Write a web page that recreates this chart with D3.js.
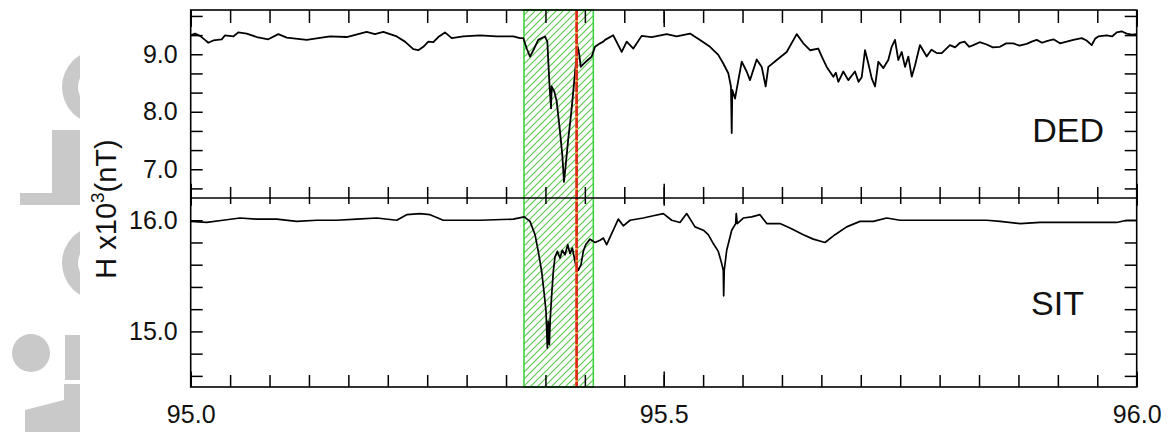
<!DOCTYPE html>
<html><head><meta charset="utf-8">
<script src="https://cdn.jsdelivr.net/npm/d3@7"></script>
<style>
body{margin:0;background:#fff}
svg{display:block}
text{font-family:"Liberation Sans",Arial,sans-serif;fill:#111}
</style>
</head><body>
<svg id="c" width="1168" height="432"></svg>
<script>
// ---- data (day of year, H x10^3 nT) ----
const dedTime = [95.0000,95.0045,95.0098,95.0151,95.0186,95.0239,95.0328,95.0363,95.0450,95.0503,95.0592,95.0698,95.0820,95.0926,95.1015,95.1226,95.1473,95.1649,95.1860,95.1948,95.2036,95.2178,95.2265,95.2353,95.2406,95.2459,95.2512,95.2565,95.2617,95.2688,95.2759,95.2882,95.3058,95.3235,95.3410,95.3481,95.3516,95.3552,95.3587,95.3622,95.3674,95.3745,95.3770,95.3791,95.3809,95.3816,95.3844,95.3869,95.3904,95.3928,95.3946,95.3964,95.3992,95.4020,95.4044,95.4070,95.4091,95.4108,95.4123,95.4150,95.4197,95.4239,95.4274,95.4327,95.4362,95.4380,95.4467,95.4556,95.4609,95.4679,95.4767,95.4873,95.5032,95.5137,95.5278,95.5384,95.5490,95.5577,95.5630,95.5683,95.5711,95.5719,95.5725,95.5754,95.5789,95.5825,95.5877,95.5912,95.5983,95.6036,95.6078,95.6106,95.6195,95.6300,95.6406,95.6476,95.6547,95.6634,95.6680,95.6723,95.6793,95.6820,95.6846,95.6899,95.6951,95.7022,95.7060,95.7093,95.7128,95.7163,95.7199,95.7234,95.7269,95.7322,95.7374,95.7410,95.7445,95.7480,95.7516,95.7551,95.7586,95.7622,95.7657,95.7709,95.7780,95.7830,95.7886,95.7939,95.8026,95.8080,95.8132,95.8180,95.8230,95.8273,95.8340,95.8414,95.8480,95.8555,95.8620,95.8696,95.8760,95.8837,95.8890,95.8943,95.9000,95.9049,95.9120,95.9189,95.9260,95.9330,95.9419,95.9470,95.9525,95.9560,95.9594,95.9683,95.9740,95.9789,95.9840,95.9894,95.9950,96.0000];
const dedH = [9.33,9.36,9.32,9.25,9.20,9.24,9.26,9.33,9.31,9.38,9.36,9.30,9.26,9.35,9.29,9.25,9.31,9.30,9.39,9.35,9.39,9.31,9.22,9.09,9.07,9.13,9.22,9.21,9.30,9.38,9.28,9.31,9.33,9.31,9.31,9.28,9.28,9.10,8.96,9.07,9.25,9.31,9.22,8.52,8.06,8.44,8.35,8.18,7.65,7.25,6.78,7.07,7.54,7.94,8.35,8.81,9.13,8.99,8.78,8.83,8.90,8.96,9.13,9.19,9.22,9.25,9.33,9.04,9.22,9.10,9.32,9.30,9.35,9.31,9.36,9.25,9.13,8.99,8.84,8.67,8.44,7.63,8.38,8.23,8.55,8.87,8.70,8.55,8.91,8.78,8.44,8.78,8.90,9.04,9.35,9.19,9.07,9.10,8.93,8.78,8.61,8.68,8.52,8.70,8.55,8.70,8.52,8.60,9.07,8.84,8.58,8.44,8.87,8.76,8.90,9.13,9.25,8.90,9.04,8.78,8.96,8.61,8.81,9.16,8.96,9.08,9.02,9.02,9.16,9.12,9.20,9.22,9.13,9.16,9.21,9.17,9.12,9.13,9.19,9.19,9.15,9.18,9.22,9.25,9.20,9.23,9.26,9.19,9.22,9.25,9.28,9.24,9.16,9.27,9.31,9.33,9.31,9.38,9.40,9.36,9.34,9.35];

const sitTime = [95.0000,95.0169,95.0341,95.0521,95.0698,95.0909,95.1121,95.1332,95.1543,95.1755,95.1966,95.2178,95.2283,95.2424,95.2530,95.2670,95.2812,95.3058,95.3410,95.3526,95.3587,95.3640,95.3674,95.3710,95.3738,95.3756,95.3770,95.3780,95.3791,95.3801,95.3816,95.3833,95.3851,95.3876,95.3904,95.3928,95.3957,95.3985,95.4010,95.4034,95.4070,95.4097,95.4126,95.4150,95.4175,95.4221,95.4274,95.4327,95.4362,95.4397,95.4450,95.4520,95.4573,95.4644,95.4784,95.4890,95.4996,95.5085,95.5172,95.5243,95.5331,95.5419,95.5471,95.5524,95.5577,95.5613,95.5630,95.5634,95.5640,95.5666,95.5719,95.5761,95.5767,95.5778,95.5841,95.5930,95.6018,95.6089,95.6229,95.6335,95.6476,95.6581,95.6705,95.6811,95.6934,95.7075,95.7216,95.7357,95.7498,95.7674,95.7847,95.8203,95.8414,95.8555,95.8767,95.8978,95.9189,95.9401,95.9612,95.9789,95.9894,96.0000];
const sitH = [15.99,15.98,16.00,16.02,16.01,16.01,15.99,16.00,16.00,16.01,16.02,16.00,16.05,16.06,16.05,16.00,16.00,16.00,16.01,16.03,15.99,15.87,15.72,15.54,15.33,15.18,14.85,15.09,14.88,15.12,15.33,15.54,15.67,15.72,15.66,15.73,15.69,15.78,15.70,15.75,15.60,15.55,15.60,15.72,15.78,15.83,15.80,15.82,15.84,15.78,15.88,16.01,15.95,16.00,16.02,16.04,16.06,16.00,15.98,16.06,15.94,15.91,15.87,15.79,15.72,15.61,15.55,15.32,15.55,15.73,15.91,15.97,16.06,15.97,16.02,16.03,16.05,15.97,15.97,15.93,15.87,15.83,15.80,15.87,15.94,15.99,15.99,16.02,16.00,16.00,16.00,16.00,16.00,15.99,15.97,15.98,15.98,15.98,15.98,15.98,16.00,16.00];

const stationNames = ["DED", "SIT"];
const xLabelValues = [95.0, 95.5, 96.0];
const xTickLabels = ["95.0", "95.5", "96.0"];
const dedLabelValues = [7, 8, 9];
const dedTickLabels = ["7.0", "8.0", "9.0"];
const sitLabelValues = [15, 16];
const sitTickLabels = ["15.0", "16.0"];
const eventWindow = [95.3523, 95.4256];
const eventMarker = [95.408];
const yTitle = ["H x10", "3", "(nT)"];

// ---- layout ----
const L = 190.7, R = 1136.7, T = 10, M = 198, B = 387;
const svg = d3.select("#c");

// watermark fragments
const wm = svg.append("g").attr("fill", "#c9c9c9");
const ring = d3.arc().innerRadius(21).outerRadius(37).startAngle(Math.PI).endAngle(2 * Math.PI);
wm.append("clipPath").attr("id", "wmclip").append("rect").attr("x", 0).attr("y", 0).attr("width", 80).attr("height", 432);
const wg = wm.append("g").attr("clip-path", "url(#wmclip)");
wg.append("path").attr("d", ring()).attr("transform", "translate(99,87)");
wg.append("path").attr("d", ring()).attr("transform", "translate(99,263)");
wg.append("path").attr("d", "M52,130 L80,130 L80,205 L20,205 L20,193 L52,193 Z");
wg.append("circle").attr("cx", 31).attr("cy", 353).attr("r", 19);
wg.append("rect").attr("x", 65).attr("y", 335).attr("width", 15).attr("height", 45);
wg.append("path").attr("d", "M64,384 L80,384 L80,432 L25,432 L25,410 L64,400 Z");

// scales
const x = d3.scaleLinear().domain([95, 96]).range([L, R]);
const yTop = d3.scaleLinear().domain([6.5, 9.77]).range([M, T]);
const yBot = d3.scaleLinear().domain([14.5, 16.2]).range([B, M]);

// defs: hatch + clips
const defs = svg.append("defs");
const pat = defs.append("pattern").attr("id", "hatch").attr("patternUnits", "userSpaceOnUse")
  .attr("width", 7).attr("height", 7);
pat.append("path").attr("d", "M-1,1 l2,-2 M0,7 l7,-7 M6,8 l2,-2")
  .attr("stroke", "#5cc84f").attr("stroke-width", 1.2);
defs.append("clipPath").attr("id", "cpTop").append("rect").attr("x", L).attr("y", T).attr("width", R - L).attr("height", M - T);
defs.append("clipPath").attr("id", "cpBot").append("rect").attr("x", L).attr("y", M).attr("width", R - L).attr("height", B - M);

// event window
svg.append("rect").attr("x", x(eventWindow[0])).attr("y", T)
  .attr("width", x(eventWindow[1]) - x(eventWindow[0])).attr("height", B - T)
  .attr("fill", "url(#hatch)").attr("stroke", "#3fd43f").attr("stroke-width", 1.6);

// lines
const lineTop = d3.line().x((d, i) => x(dedTime[i])).y(d => yTop(d));
const lineBot = d3.line().x((d, i) => x(sitTime[i])).y(d => yBot(d));
svg.append("path").attr("d", lineTop(dedH)).attr("fill", "none").attr("stroke", "#000")
  .attr("stroke-width", 1.8).attr("stroke-linejoin", "round").attr("clip-path", "url(#cpTop)");
svg.append("path").attr("d", lineBot(sitH)).attr("fill", "none").attr("stroke", "#000")
  .attr("stroke-width", 1.7).attr("stroke-linejoin", "round").attr("clip-path", "url(#cpBot)");

// event marker
svg.selectAll(".marker").data(eventMarker).enter().append("line")
  .attr("x1", d => x(d)).attr("x2", d => x(d)).attr("y1", T).attr("y2", B)
  .attr("stroke", "#f08a3a").attr("stroke-width", 2.6);
svg.selectAll(".marker2").data(eventMarker).enter().append("line")
  .attr("x1", d => x(d)).attr("x2", d => x(d)).attr("y1", T).attr("y2", B)
  .attr("stroke", "#dd2a18").attr("stroke-width", 2.6).attr("stroke-dasharray", "10,2");

// frames
const frame = svg.append("g").attr("fill", "none").attr("stroke", "#000").attr("stroke-width", 1.6);
frame.append("rect").attr("x", L).attr("y", T).attr("width", R - L).attr("height", B - T);
frame.append("line").attr("x1", L).attr("x2", R).attr("y1", M).attr("y2", M);

// axes helpers
const minorX = d3.range(0, 25).map(i => 95 + i / 24);
function styleAxis(g) {
  g.select(".domain").remove();
  g.selectAll("line").attr("stroke", "#000").attr("stroke-width", 1.5);
  g.selectAll("text").attr("font-size", 25).attr("font-family", "Liberation Sans, Arial, sans-serif").attr("fill", "#111");
}
function xAx(axisFn, y, size) {
  svg.append("g").attr("transform", `translate(0,${y})`)
    .call(axisFn(x).tickValues(minorX).tickSize(size).tickFormat("")).call(styleAxis);
  svg.append("g").attr("transform", `translate(0,${y})`)
    .call(axisFn(x).tickValues(xLabelValues).tickSize(size * 1.3).tickFormat("")).call(styleAxis);
}
xAx(d3.axisTop, T, -13);
xAx(d3.axisBottom, M, -11);
xAx(d3.axisTop, M, -6);
xAx(d3.axisBottom, B, -12);

// x labels
svg.append("g").attr("transform", `translate(0,${B})`)
  .call(d3.axisBottom(x).tickValues(xLabelValues).tickSize(0).tickPadding(18)
    .tickFormat((d, i) => xTickLabels[i])).call(styleAxis);

// y ticks
const dedMinor = d3.range(20, 30).map(i => i / 3);
const sitMinor = d3.range(73, 81).map(i => i / 5);
svg.append("g").attr("transform", `translate(${L},0)`)
  .call(d3.axisLeft(yTop).tickValues(dedMinor).tickSize(-12).tickFormat("")).call(styleAxis);
svg.append("g").attr("transform", `translate(${R},0)`)
  .call(d3.axisRight(yTop).tickValues(dedMinor).tickSize(-12).tickFormat("")).call(styleAxis);
svg.append("g").attr("transform", `translate(${L},0)`)
  .call(d3.axisLeft(yBot).tickValues(sitMinor).tickSize(-12).tickFormat("")).call(styleAxis);
svg.append("g").attr("transform", `translate(${R},0)`)
  .call(d3.axisRight(yBot).tickValues(sitMinor).tickSize(-12).tickFormat("")).call(styleAxis);
// y labels
svg.append("g").attr("transform", `translate(${L},0)`)
  .call(d3.axisLeft(yTop).tickValues(dedLabelValues).tickSize(0).tickPadding(13)
    .tickFormat((d, i) => dedTickLabels[i])).call(styleAxis);
svg.append("g").attr("transform", `translate(${L},0)`)
  .call(d3.axisLeft(yBot).tickValues(sitLabelValues).tickSize(0).tickPadding(13)
    .tickFormat((d, i) => sitTickLabels[i])).call(styleAxis);

// y title
const yt = svg.append("text").attr("transform", "translate(116,209) rotate(-90)")
  .attr("text-anchor", "middle").attr("font-size", 29);
yt.append("tspan").text(yTitle[0]);
yt.append("tspan").attr("dy", -12).attr("font-size", 19).text(yTitle[1]);
yt.append("tspan").attr("dy", 12).text(yTitle[2]);

// station labels
svg.append("text").attr("x", 1104).attr("y", 142).attr("text-anchor", "end").attr("font-size", 34).text(stationNames[0]);
svg.append("text").attr("x", 1084).attr("y", 315).attr("text-anchor", "end").attr("font-size", 34).text(stationNames[1]);
</script>
</body></html>
